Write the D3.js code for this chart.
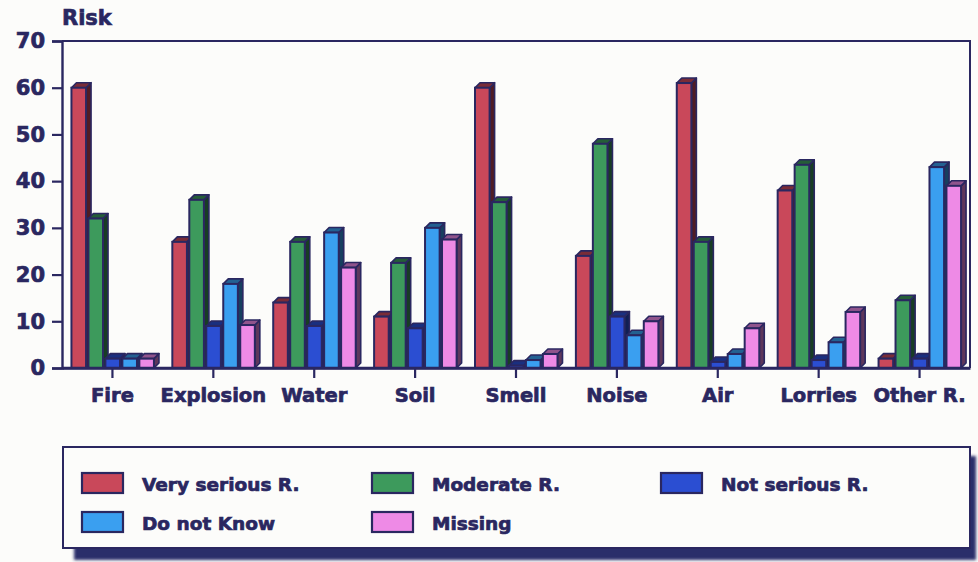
<!DOCTYPE html>
<html>
<head>
<meta charset="utf-8">
<script src="https://cdn.jsdelivr.net/npm/d3@7/dist/d3.min.js"></script>
<style>
  html, body { margin: 0; padding: 0; background: #fcfcfa; }
  svg { display: block; }
  text { font-family: "DejaVu Sans", sans-serif; font-weight: bold; fill: #2a2760; stroke: #2a2760; stroke-width: 0.7px; }
</style>
</head>
<body>
<svg id="chart" width="978" height="562"></svg>
<script>
// Risk perception per hazard category (percent of answers)
const categories = ["Fire", "Explosion", "Water", "Soil", "Smell", "Noise", "Air", "Lorries", "Other R."];
const seriesNames = ["Very serious R.", "Moderate R.", "Not serious R.", "Do not Know", "Missing"];
const verySerious = [60, 27, 14, 11, 60, 24, 61, 38, 2];
const moderate    = [32, 36, 27, 22.5, 35.5, 48, 27, 43.5, 14.5];
const notSerious  = [2, 9, 9, 8.5, 0.5, 11, 1.3, 1.7, 2];
const doNotKnow   = [2, 18, 29, 30, 1.7, 7, 3, 5.5, 43];
const missing     = [2, 9.2, 21.5, 27.5, 3, 10, 8.5, 12, 39];
const yTicks = [0, 10, 20, 30, 40, 50, 60, 70];

const seriesValues = [verySerious, moderate, notSerious, doNotKnow, missing];
const colors = ["#c9485a", "#3d9a5c", "#2b4ed2", "#3a9ff0", "#ee8ae6"];
const ink = "#2a2760";

const svg = d3.select("#chart");
const plotLeft = 62, plotRight = 970, plotTop = 41, plotBottom = 368;

const x = d3.scaleBand().domain(categories).range([plotLeft, plotRight]).padding(0);
const y = d3.scaleLinear().domain([0, 70]).range([plotBottom, plotTop]);
const inner = d3.scaleBand().domain(seriesNames).range([-41, 41.5]).paddingInner(0.14).paddingOuter(0);

const depthX = 5, depthY = 5;

// Plot frame: top and right border lines
svg.append("path")
  .attr("d", `M${plotLeft},${plotTop}H${plotRight}V${plotBottom}`)
  .attr("fill", "none").attr("stroke", ink).attr("stroke-width", 2);

// Y axis
const yAxis = svg.append("g").attr("transform", `translate(${plotLeft},0)`)
  .call(d3.axisLeft(y).tickValues(yTicks).tickSize(10).tickPadding(7));
yAxis.select(".domain").attr("stroke", ink).attr("stroke-width", 2.4);
yAxis.selectAll(".tick line").attr("stroke", ink).attr("stroke-width", 2.2);
yAxis.selectAll(".tick text").attr("fill", ink).style("font-size", "21px")
  .style("font-family", "DejaVu Sans").style("font-weight", "bold");

// X axis
const xAxis = svg.append("g").attr("transform", `translate(0,${plotBottom})`)
  .call(d3.axisBottom(x).tickSize(10).tickPadding(10).tickSizeOuter(0));
xAxis.select(".domain").attr("stroke", ink).attr("stroke-width", 2.4);
xAxis.selectAll(".tick line").attr("stroke", ink).attr("stroke-width", 2.2);
xAxis.selectAll(".tick text").attr("fill", ink).style("font-size", "19.5px")
  .style("font-family", "DejaVu Sans").style("font-weight", "bold");

// Axis title
svg.append("text").attr("x", 62).attr("y", 25).style("font-size", "21px").text("Risk");

// 3D bars
const bars = svg.append("g");
categories.forEach((cat, ci) => {
  seriesNames.forEach((s, si) => {
    const v = seriesValues[si][ci];
    const x0 = x(cat) + x.bandwidth() / 2 + inner(s);
    const w = inner.bandwidth();
    const y0 = y(v);
    const c = d3.color(colors[si]);
    const g = bars.append("g");
    // side face
    g.append("path")
      .attr("d", `M${x0 + w},${y0}L${x0 + w + depthX},${y0 - depthY}L${x0 + w + depthX},${plotBottom - depthY}L${x0 + w},${plotBottom}Z`)
      .attr("fill", c.darker(2.6)).attr("stroke", ink).attr("stroke-width", 1.6).attr("stroke-linejoin", "round");
    // top face
    g.append("path")
      .attr("d", `M${x0},${y0}L${x0 + depthX},${y0 - depthY}L${x0 + w + depthX},${y0 - depthY}L${x0 + w},${y0}Z`)
      .attr("fill", c.darker(1.4)).attr("stroke", ink).attr("stroke-width", 1.6).attr("stroke-linejoin", "round");
    // front face
    g.append("rect")
      .attr("x", x0).attr("y", y0).attr("width", w).attr("height", plotBottom - y0)
      .attr("fill", c).attr("stroke", ink).attr("stroke-width", 2);
  });
});

// Redraw baseline over the bar bottoms
svg.append("line").attr("x1", plotLeft).attr("x2", plotRight).attr("y1", plotBottom).attr("y2", plotBottom)
  .attr("stroke", ink).attr("stroke-width", 2.4);

// Legend box with drop shadow
const defs = svg.append("defs");
defs.append("filter").attr("id", "soft").append("feGaussianBlur").attr("stdDeviation", 1.5);
svg.append("rect").attr("x", 74).attr("y", 456).attr("width", 902).attr("height", 104)
  .attr("fill", "#2c2f6a").attr("filter", "url(#soft)");
svg.append("rect").attr("x", 63).attr("y", 447).attr("width", 907).attr("height", 101)
  .attr("fill", "#fcfcfa").attr("stroke", ink).attr("stroke-width", 2);

const legendPos = [[82, 473], [372, 473], [661, 473], [82, 512], [372, 512]];
seriesNames.forEach((s, i) => {
  const [lx, ly] = legendPos[i];
  svg.append("rect").attr("x", lx).attr("y", ly).attr("width", 41).attr("height", 20)
    .attr("fill", colors[i]).attr("stroke", ink).attr("stroke-width", 2.2);
  svg.append("text").attr("x", lx + 60).attr("y", ly + 18)
    .style("font-size", "18.5px").text(s);
});
</script>
</body>
</html>
